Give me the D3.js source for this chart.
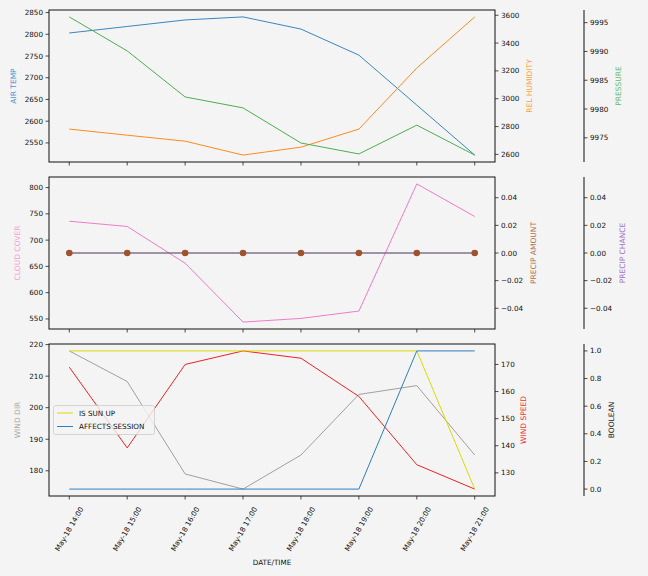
<!DOCTYPE html>
<html><head><meta charset="utf-8">
<script src="https://cdn.jsdelivr.net/npm/d3@7"></script>
<style>body{margin:0;background:#f4f4f4}svg{display:block;font-family:"DejaVu Sans",sans-serif}</style>
</head><body><svg id="c" width="648" height="576"></svg>
<script>
const times = ["May-18 14:00","May-18 15:00","May-18 16:00","May-18 17:00","May-18 18:00","May-18 19:00","May-18 20:00","May-18 21:00"];
const airTemp = [2803, 2818, 2833, 2840, 2812, 2752, 2637, 2522];
const relHumidity = [2782, 2738, 2695, 2595, 2652, 2782, 3221, 3588];
const pressure = [9996, 9990.1, 9982.1, 9980.2, 9974.1, 9972.2, 9977.2, 9972];
const cloudCover = [736, 726, 656, 544, 551, 565, 807, 745];
const precipAmount = [0, 0, 0, 0, 0, 0, 0, 0];
const precipChance = [0, 0, 0, 0, 0, 0, 0, 0];
const windDir = [218, 208.3, 179, 174.2, 185, 204.2, 207, 185];
const windSpeed = [169, 139.2, 170, 175, 172.3, 158.2, 133, 124];
const isSunUp = [1, 1, 1, 1, 1, 1, 1, 0];
const affectsSession = [0, 0, 0, 0, 0, 0, 1, 1];

const airTempTicks = [2550, 2600, 2650, 2700, 2750, 2800, 2850];
const humTicks = [2600, 2800, 3000, 3200, 3400, 3600];
const presTicks = [9975, 9980, 9985, 9990, 9995];
const cloudTicks = [550, 600, 650, 700, 750, 800];
const zeroTicks = [-0.04, -0.02, 0, 0.02, 0.04];
const windDirTicks = [180, 190, 200, 210, 220];
const windSpeedTicks = [130, 140, 150, 160, 170];
const boolTicks = [0, 0.2, 0.4, 0.6, 0.8, 1.0];

const svg = d3.select("#c");
const L = 49, R = 495, OUT = 584;
const panels = [[10,162],[177,329],[344,496]];
const FS = 7.2;
const x = d3.scaleLinear().domain([-0.35, 7.35]).range([L, R]);
const idx = d3.range(times.length);

function padDomain(arr){const e=d3.extent(arr);const r=e[1]-e[0]||0.1;return [e[0]-0.05*r,e[1]+0.05*r];}
const minus = v => d3.format(".2f")(v).replace("-", "\u2212");

function yAxis(px, side, scale, ticks, fmt){
  const g = svg.append("g");
  const dir = side === "left" ? -1 : 1;
  ticks.forEach(t => {
    const y = scale(t);
    g.append("line").attr("x1", px).attr("x2", px + dir*3.5).attr("y1", y).attr("y2", y).attr("stroke","#222").attr("stroke-width",0.8);
    g.append("text").attr("x", px + dir*6).attr("y", y).attr("dy","0.35em")
      .attr("text-anchor", side==="left"?"end":"start").attr("font-size",FS).attr("fill","#111").text(fmt(t));
  });
}
function label(xp, yc, txt, col){
  svg.append("text").attr("transform",`translate(${xp},${yc}) rotate(-90)`).attr("text-anchor","middle")
    .attr("dy","0.35em").attr("font-size",FS+0.3).attr("fill",col).text(txt);
}
function line(scale, data, col, w){
  svg.append("path").datum(data).attr("fill","none").attr("stroke",col).attr("stroke-width",w||1)
    .attr("d", d3.line().x((d,i)=>x(i)).y(d=>scale(d)));
}
function frame(p){
  const [t,b]=p;
  svg.append("rect").attr("x",L).attr("y",t).attr("width",R-L).attr("height",b-t).attr("fill","none").attr("stroke","#111").attr("stroke-width",1);
  idx.forEach(i=>svg.append("line").attr("x1",x(i)).attr("x2",x(i)).attr("y1",b).attr("y2",b+3.5).attr("stroke","#222").attr("stroke-width",0.8));
}
function outerSpine(p){
  svg.append("line").attr("x1",OUT).attr("x2",OUT).attr("y1",p[0]).attr("y2",p[1]).attr("stroke","#111").attr("stroke-width",1);
}
const fmtInt = d3.format("d");
const fmt1 = d3.format(".1f");

// Panel 1
{
  const p = panels[0];
  const yT = d3.scaleLinear().domain(padDomain(airTemp)).range([p[1],p[0]]);
  const yH = d3.scaleLinear().domain(padDomain(relHumidity)).range([p[1],p[0]]);
  const yP = d3.scaleLinear().domain(padDomain(pressure)).range([p[1],p[0]]);
  line(yT, airTemp, "#3a86c0");
  line(yH, relHumidity, "#ff8c1a");
  line(yP, pressure, "#4caf50");
  frame(p); outerSpine(p);
  yAxis(L,"left",yT,airTempTicks,fmtInt);
  yAxis(R,"right",yH,humTicks,fmtInt);
  yAxis(OUT,"right",yP,presTicks,fmtInt);
  const mid=(p[0]+p[1])/2;
  label(13, mid, "AIR TEMP", "#4a90d0");
  label(529, mid, "REL HUMIDITY", "#ffa040");
  label(618, mid, "PRESSURE", "#66bb66");
}
// Panel 2
{
  const p = panels[1];
  const yC = d3.scaleLinear().domain(padDomain(cloudCover)).range([p[1],p[0]]);
  const yA = d3.scaleLinear().domain([-0.055,0.055]).range([p[1],p[0]]);
  const yB = d3.scaleLinear().domain([-0.055,0.055]).range([p[1],p[0]]);
  line(yC, cloudCover, "#f07cc8");
  line(yB, precipChance, "#9467bd", 0.8);
  line(yA, precipAmount, "#555555", 0.8);
  svg.append("g").selectAll("circle").data(precipAmount).join("circle")
    .attr("cx",(d,i)=>x(i)).attr("cy",d=>yA(d)).attr("r",3.3).attr("fill","#a0522d");
  frame(p); outerSpine(p);
  yAxis(L,"left",yC,cloudTicks,fmtInt);
  yAxis(R,"right",yA,zeroTicks,minus);
  yAxis(OUT,"right",yB,zeroTicks,minus);
  const mid=(p[0]+p[1])/2;
  label(17, mid, "CLOUD COVER", "#f5a0d6");
  label(533, mid, "PRECIP AMOUNT", "#b0704a");
  label(622, mid, "PRECIP CHANCE", "#a070c8");
}
// Panel 3
{
  const p = panels[2];
  const yD = d3.scaleLinear().domain(padDomain(windDir)).range([p[1],p[0]]);
  const yS = d3.scaleLinear().domain(padDomain(windSpeed)).range([p[1],p[0]]);
  const yBo = d3.scaleLinear().domain([-0.05,1.05]).range([p[1],p[0]]);
  line(yD, windDir, "#a0a0a0");
  line(yS, windSpeed, "#ee2222");
  line(yBo, isSunUp, "#dcdc00");
  line(yBo, affectsSession, "#2f7fc0");
  frame(p); outerSpine(p);
  yAxis(L,"left",yD,windDirTicks,fmtInt);
  yAxis(R,"right",yS,windSpeedTicks,fmtInt);
  yAxis(OUT,"right",yBo,boolTicks,fmt1);
  const mid=(p[0]+p[1])/2;
  label(17, mid, "WIND DIR", "#aaaaaa");
  label(523, mid, "WIND SPEED", "#ee3333");
  label(611, mid, "BOOLEAN", "#222");
  // legend
  const lg = svg.append("g");
  lg.append("rect").attr("x",53.5).attr("y",405.5).attr("width",101).attr("height",29).attr("rx",2)
    .attr("fill","#f4f4f4").attr("fill-opacity",0.8).attr("stroke","#cccccc").attr("stroke-width",0.8);
  const items=[["IS SUN UP","#dcdc00"],["AFFECTS SESSION","#2f7fc0"]];
  items.forEach((it,i)=>{
    const yy = 413 + i*13.5;
    lg.append("line").attr("x1",57).attr("x2",73).attr("y1",yy).attr("y2",yy).attr("stroke",it[1]).attr("stroke-width",1);
    lg.append("text").attr("x",79).attr("y",yy).attr("dy","0.35em").attr("font-size",FS).attr("fill","#111").text(it[0]);
  });
}
// x tick labels
idx.forEach(i=>{
  svg.append("text").attr("transform",`translate(${x(i)},529) rotate(-60)`).attr("text-anchor","middle")
    .attr("dy","0.35em").attr("font-size",FS).attr("fill","#111").text(times[i]);
});
svg.append("text").attr("x",(L+R)/2).attr("y",562).attr("dy","0.35em").attr("text-anchor","middle")
  .attr("font-size",FS).attr("fill","#111").text("DATE/TIME");
</script></body></html>
